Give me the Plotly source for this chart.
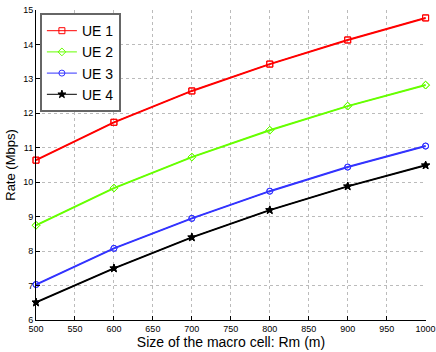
import plotly.graph_objects as go

rm = [500, 600, 700, 800, 900, 1000]
ue1 = [10.64, 11.74, 12.65, 13.43, 14.13, 14.77]
ue2 = [8.75, 9.83, 10.73, 11.51, 12.21, 12.82]
ue3 = [7.03, 8.08, 8.95, 9.74, 10.44, 11.05]
ue4 = [6.51, 7.50, 8.40, 9.19, 9.88, 10.49]

series = [
    ("UE 1", ue1, "#ff0000", "square-open"),
    ("UE 2", ue2, "#66ff00", "diamond-open"),
    ("UE 3", ue3, "#3333ff", "circle-open"),
    ("UE 4", ue4, "#000000", "star"),
]

fig = go.Figure()
# thin copies first (hidden under the thick lines) so the legend shows thin lines
for name, vals, col, sym in series:
    fig.add_trace(go.Scatter(
        x=rm, y=vals, name=name, mode="lines+markers",
        line=dict(color=col, width=1),
        marker=dict(symbol=sym, size=6, color=col, line=dict(color=col, width=1)),
        cliponaxis=False,
    ))
for name, vals, col, sym in series:
    fig.add_trace(go.Scatter(
        x=rm, y=vals, name=name, mode="lines+markers", showlegend=False,
        line=dict(color=col, width=2),
        marker=dict(symbol=sym, size=6, color=col, line=dict(color=col, width=1)),
        cliponaxis=False,
    ))

axis_common = dict(
    showgrid=True, gridcolor="#bbbbbb", griddash="dot", gridwidth=1,
    showline=True, linecolor="black", linewidth=1,
    ticks="inside", ticklen=4, tickcolor="black",
    tickfont=dict(family="Liberation Sans, Arial", size=9, color="black"),
    zeroline=False, mirror=False, automargin=False,
)

fig.update_layout(
    width=436, height=352,
    margin=dict(l=36, r=10, t=10, b=32),
    paper_bgcolor="white", plot_bgcolor="white",
    font=dict(family="Liberation Sans, Arial", color="black"),
    xaxis=dict(range=[500, 1000.5], dtick=50, tick0=500,
               title=dict(text="Size of the macro cell: Rm (m)", font=dict(size=14), standoff=3),
               **axis_common),
    yaxis=dict(range=[6, 15], dtick=1,
               title=dict(text="Rate (Mbps)", font=dict(size=13), standoff=4),
               **axis_common),
    legend=dict(x=0.01, y=0.99, xanchor="left", yanchor="top",
                bgcolor="white", bordercolor="#666666", borderwidth=2,
                font=dict(size=14), tracegroupgap=0, itemwidth=30),
    showlegend=True,
)

fig.write_html("out.html", config={"displayModeBar": False},
               post_script="document.body.style.margin='0';")
